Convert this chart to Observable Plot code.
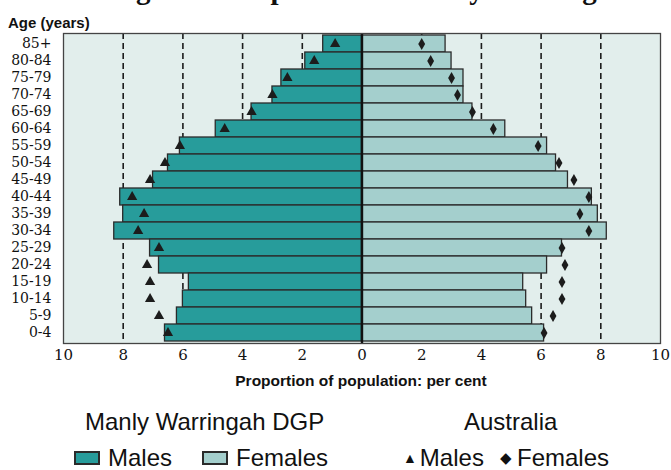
<!DOCTYPE html>
<html>
<head>
<meta charset="utf-8">
<script src="https://cdn.jsdelivr.net/npm/d3@7"></script>
<script src="https://cdn.jsdelivr.net/npm/@observablehq/plot@0.6"></script>
<style>
  html, body { margin: 0; padding: 0; background: #fff; }
  #wrap { position: relative; width: 671px; height: 470px; overflow: hidden; }
  #title { position: absolute; top: 0; left: 0; overflow: hidden; }
  #ylab { position: absolute; left: 8px; top: 15px; font: bold 15px/1 "Liberation Sans Narrow", "Liberation Sans", sans-serif; color: #111; }
  #xlab { position: absolute; left: 0; width: 722px; top: 373px; text-align: center;
          font: bold 15.5px/1 "Liberation Sans", sans-serif; color: #111; }
  .lg { position: absolute; font: 24px/1 "Liberation Sans Narrow", "Liberation Sans", sans-serif; color: #111; white-space: nowrap; }
  .sw { display: inline-block; width: 26px; height: 14px; border: 2px solid #2b2b2b; box-sizing: border-box; vertical-align: 1px; margin-right: 8px; }
  #chart svg { position: absolute; left: 0; top: 0; }
</style>
</head>
<body>
<div id="wrap">
  <div id="chart"></div>
  <svg id="title" width="671" height="12"><text x="115" y="-1.5" font-family="Liberation Serif, serif" font-weight="bold" font-size="29" fill="#111">Age and sex profile for Manly Warringah</text></svg>
  <div id="ylab">Age (years)</div>
  <div id="xlab">Proportion of population: per cent</div>
  <div class="lg" style="left:85px; top:410px;">Manly Warringah DGP</div>
  <div class="lg" style="left:464px; top:410px;">Australia</div>
  <div class="lg" style="left:74px; top:446px;"><span class="sw" style="background:#279c9b"></span>Males</div>
  <div class="lg" style="left:202px; top:446px;"><span class="sw" style="background:#a4cfcd"></span>Females</div>
  <div class="lg" style="left:403px; top:446px;"><span style="font-size:14px;vertical-align:3px;margin-right:3px">&#9650;</span>Males</div>
  <div class="lg" style="left:500px; top:446px;"><span style="font-size:15px;vertical-align:3px;margin-right:5px">&#9670;</span>Females</div>
</div>
<script>
const ages = ["85+","80-84","75-79","70-74","65-69","60-64","55-59","50-54","45-49","40-44","35-39","30-34","25-29","20-24","15-19","10-14","5-9","0-4"];
const mwMales   = [1.3, 1.9, 2.7, 3.0, 3.7, 4.9, 6.1, 6.5, 7.0, 8.1, 8.0, 8.3, 7.1, 6.8, 5.8, 6.0, 6.2, 6.6];
const mwFemales = [2.8, 3.0, 3.4, 3.4, 3.7, 4.8, 6.2, 6.5, 6.9, 7.7, 7.9, 8.2, 6.7, 6.2, 5.4, 5.5, 5.7, 6.1];
const auMales   = [0.9, 1.6, 2.5, 3.0, 3.7, 4.6, 6.1, 6.6, 7.1, 7.7, 7.3, 7.5, 6.8, 7.2, 7.1, 7.1, 6.8, 6.5];
const auFemales = [2.0, 2.3, 3.0, 3.2, 3.7, 4.4, 5.9, 6.6, 7.1, 7.6, 7.3, 7.6, 6.7, 6.8, 6.7, 6.7, 6.4, 6.1];
const xTicks = [-10, -8, -6, -4, -2, 0, 2, 4, 6, 8, 10];
const gridLines = [-8, -6, -4, -2, 2, 4, 6, 8];

const rows = ages.map((age, i) => ({age, mwM: mwMales[i], mwF: mwFemales[i], auM: auMales[i], auF: auFemales[i]}));

const male = "#279c9b", female = "#a4cfcd", bg = "#e2eeec", ink = "#1c1c1c";
const serif = "DejaVu Serif, Liberation Serif, serif";

const chart = Plot.plot({
  width: 671,
  height: 392,
  marginLeft: 63,
  marginRight: 11,
  marginTop: 33,
  marginBottom: 49,
  style: {fontFamily: serif, fontSize: "14px", color: "#111", background: "transparent"},
  x: {domain: [-10, 10]},
  y: {domain: ages, padding: 0},
  marks: [
    Plot.frame({fill: bg, stroke: null}),
    Plot.ruleX(gridLines, {stroke: ink, strokeWidth: 1.6, strokeDasharray: "6,4"}),
    Plot.barX(rows, {y: "age", x1: 0, x2: d => -d.mwM, fill: male, stroke: "#2b2b2b", strokeWidth: 1.3}),
    Plot.barX(rows, {y: "age", x1: 0, x2: d => d.mwF, fill: female, stroke: "#2b2b2b", strokeWidth: 1.3}),
    Plot.dot(rows, {y: "age", x: d => -d.auM, symbol: "triangle", fill: ink, stroke: null, r: 3.8}),
    Plot.dot(rows, {y: "age", x: d => d.auF, symbol: "diamond", fill: ink, stroke: null, r: 3.6}),
    Plot.ruleX([0], {stroke: "#111", strokeWidth: 2.4}),
    Plot.frame({stroke: "#444", strokeWidth: 1.3}),
    Plot.axisX({ticks: xTicks, tickFormat: d => Math.abs(d), tickSize: 0, tickPadding: 6, label: null, fontSize: 15, fontFamily: serif}),
    Plot.axisY({tickSize: 0, tickPadding: 12, label: null, fontSize: 14, fontFamily: serif})
  ]
});
document.getElementById("chart").appendChild(chart);
</script>
</body>
</html>
